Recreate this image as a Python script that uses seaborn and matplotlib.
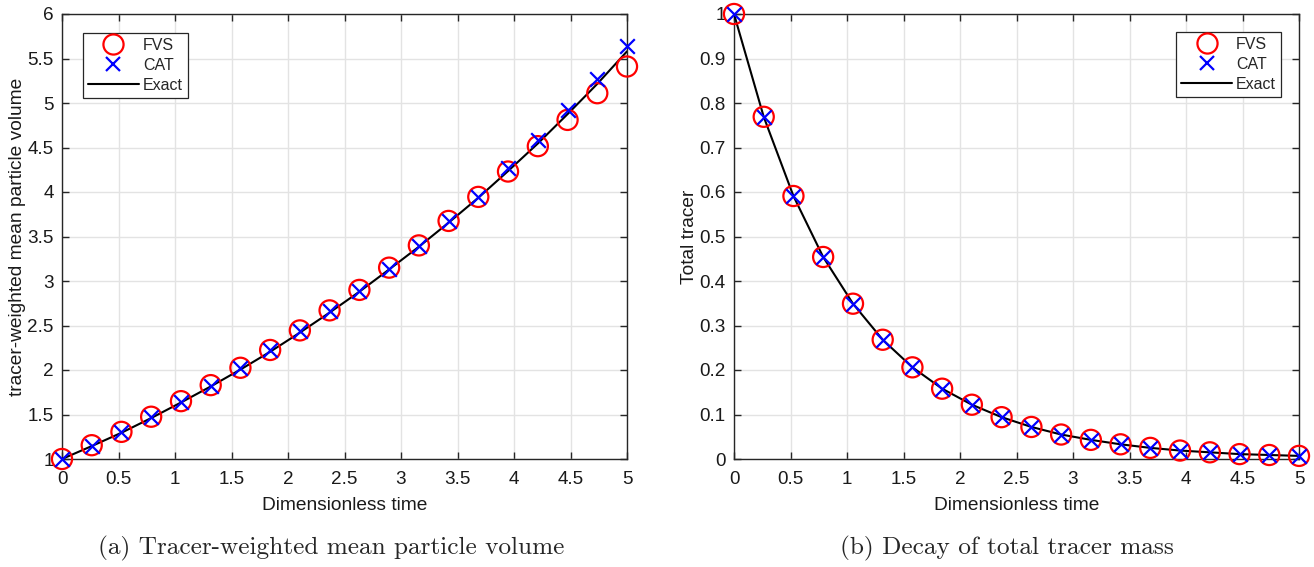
import numpy as np
import pandas as pd
import matplotlib
matplotlib.use("Agg")
import matplotlib.pyplot as plt
from matplotlib.lines import Line2D
import seaborn as sns

# ---------------- data ----------------
t_points = [0.0, 0.263, 0.526, 0.789, 1.053, 1.316, 1.579, 1.842, 2.105, 2.368,
            2.632, 2.895, 3.158, 3.421, 3.684, 3.947, 4.211, 4.474, 4.737, 5.0]

vol_fvs = [1.00, 1.155, 1.305, 1.475, 1.650, 1.830, 2.025, 2.225, 2.445, 2.670,
           2.900, 3.150, 3.400, 3.675, 3.945, 4.230, 4.515, 4.810, 5.110, 5.410]
vol_cat = [1.00, 1.150, 1.300, 1.470, 1.645, 1.825, 2.020, 2.220, 2.435, 2.660,
           2.890, 3.140, 3.395, 3.670, 3.945, 4.270, 4.580, 4.925, 5.275, 5.645]
vol_exact = [1.00, 1.145, 1.295, 1.460, 1.635, 1.815, 2.005, 2.205, 2.420, 2.645,
             2.880, 3.130, 3.385, 3.655, 3.935, 4.235, 4.545, 4.875, 5.215, 5.580]

mass_fvs = [1.000, 0.769, 0.591, 0.454, 0.349, 0.268, 0.206, 0.158, 0.122, 0.094,
            0.072, 0.055, 0.043, 0.033, 0.025, 0.019, 0.015, 0.011, 0.009, 0.007]
mass_cat = [1.000, 0.769, 0.591, 0.454, 0.349, 0.268, 0.206, 0.158, 0.122, 0.094,
            0.072, 0.055, 0.043, 0.033, 0.025, 0.019, 0.015, 0.011, 0.009, 0.007]
mass_exact = [1.000, 0.769, 0.591, 0.454, 0.349, 0.268, 0.206, 0.158, 0.122, 0.094,
              0.072, 0.055, 0.043, 0.033, 0.025, 0.019, 0.015, 0.011, 0.009, 0.007]

x_ticks = [0, 0.5, 1, 1.5, 2, 2.5, 3, 3.5, 4, 4.5, 5]
x_ticklabels = ["0", "0.5", "1", "1.5", "2", "2.5", "3", "3.5", "4", "4.5", "5"]
vol_ticks = [1, 1.5, 2, 2.5, 3, 3.5, 4, 4.5, 5, 5.5, 6]
vol_ticklabels = ["1", "1.5", "2", "2.5", "3", "3.5", "4", "4.5", "5", "5.5", "6"]
mass_ticks = [0, 0.1, 0.2, 0.3, 0.4, 0.5, 0.6, 0.7, 0.8, 0.9, 1]
mass_ticklabels = ["0", "0.1", "0.2", "0.3", "0.4", "0.5", "0.6", "0.7", "0.8", "0.9", "1"]

series_names = ["FVS", "CAT", "Exact"]
xlabel = "Dimensionless time"
ylabel_left = "tracer-weighted mean particle volume"
ylabel_right = "Total tracer"
caption_left = "(a) Tracer-weighted mean particle volume"
caption_right = "(b) Decay of total tracer mass"

# ---------------- style ----------------
sns.set_theme(style="white")
plt.rcParams['font.family'] = ['Liberation Sans', 'DejaVu Sans']

W, H = 1314, 567
fig = plt.figure(figsize=(W / 100, H / 100), dpi=100)

def px_axes(x0, x1, y0, y1):
    return fig.add_axes([x0 / W, 1 - y1 / H, (x1 - x0) / W, (y1 - y0) / H])

ax_l = px_axes(62, 627, 14, 459)
ax_r = px_axes(734, 1299, 14, 459)

spine_col = "#262626"
grid_col = "#e3e3e3"
text_col = "#1a1a1a"
circle_ms = 14.5
cross_ms = 10.5
tick_fs = 13.6
label_fs = 13.8
legend_fs = 11.5

def draw(ax, fvs, cat, exact, yticks, yticklabels, ylim, ylabel, legend_loc, legend_anchor):
    df = pd.DataFrame({"t": t_points, "fvs": fvs, "cat": cat, "exact": exact})
    sns.lineplot(data=df, x="t", y="exact", ax=ax, color="black", linewidth=1.5,
                 estimator=None, sort=True, zorder=3)
    sns.scatterplot(data=df, x="t", y="fvs", ax=ax, marker="o", s=circle_ms ** 2,
                    facecolors="none", edgecolor="#ff0000", linewidth=1.6, zorder=4,
                    clip_on=False)
    sns.scatterplot(data=df, x="t", y="cat", ax=ax, marker="x", s=cross_ms ** 2,
                    color="#0000ff", linewidth=1.6, zorder=5, clip_on=False)
    ax.set_xlim(0, 5)
    ax.set_ylim(*ylim)
    ax.set_xticks(x_ticks)
    ax.set_xticklabels(x_ticklabels)
    ax.set_yticks(yticks)
    ax.set_yticklabels(yticklabels)
    ax.grid(True, color=grid_col, linewidth=1.0)
    ax.set_axisbelow(True)
    for s in ax.spines.values():
        s.set_visible(True)
        s.set_color(spine_col)
        s.set_linewidth(1.0)
    ax.tick_params(axis="both", which="both", direction="in", length=5, width=1.0,
                   color=spine_col, labelsize=tick_fs, labelcolor=text_col,
                   top=True, right=True, bottom=True, left=True)
    ax.tick_params(axis="x", pad=9)
    ax.tick_params(axis="y", pad=6)
    ax.set_xlabel(xlabel, fontsize=label_fs, color=text_col, labelpad=6)
    ax.set_ylabel(ylabel, fontsize=label_fs, color=text_col, labelpad=1)
    handles = [
        Line2D([], [], linestyle="none", marker="o", markersize=circle_ms,
               markerfacecolor="none", markeredgecolor="#ff0000", markeredgewidth=1.6),
        Line2D([], [], linestyle="none", marker="x", markersize=cross_ms,
               color="#0000ff", markeredgewidth=1.6),
        Line2D([], [], color="black", linewidth=1.5),
    ]
    leg = ax.legend(handles, series_names, loc=legend_loc, bbox_to_anchor=legend_anchor,
                    fontsize=legend_fs, frameon=True, fancybox=False, framealpha=1,
                    edgecolor=spine_col, handlelength=3.2, handletextpad=0.25,
                    borderpad=0.3, labelspacing=0.32, borderaxespad=0)
    leg.get_frame().set_linewidth(0.9)

draw(ax_l, vol_fvs, vol_cat, vol_exact, vol_ticks, vol_ticklabels, (1, 6),
     ylabel_left, "upper left", ((83 - 62) / 565, 1 - (33 - 14) / 445))
draw(ax_r, mass_fvs, mass_cat, mass_exact, mass_ticks, mass_ticklabels, (0, 1),
     ylabel_right, "upper right", ((1281 - 734) / 565, 1 - (32 - 14) / 445))

fig.text(331 / W, 1 - 548 / H, caption_left, ha="center", va="center",
         fontsize=18.2, family="cmr10")
fig.text(1007 / W, 1 - 548 / H, caption_right, ha="center", va="center",
         fontsize=18.2, family="cmr10")

fig.savefig("out.png", dpi=100)
